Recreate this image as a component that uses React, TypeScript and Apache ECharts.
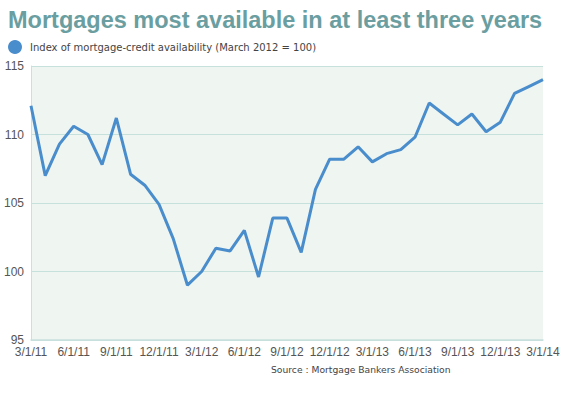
import React, { useEffect, useRef } from "react";
import * as echarts from "echarts";

const months: string[] = [
  "3/1/11", "4/1/11", "5/1/11", "6/1/11", "7/1/11", "8/1/11", "9/1/11", "10/1/11", "11/1/11", "12/1/11",
  "1/1/12", "2/1/12", "3/1/12", "4/1/12", "5/1/12", "6/1/12", "7/1/12", "8/1/12", "9/1/12", "10/1/12", "11/1/12", "12/1/12",
  "1/1/13", "2/1/13", "3/1/13", "4/1/13", "5/1/13", "6/1/13", "7/1/13", "8/1/13", "9/1/13", "10/1/13", "11/1/13", "12/1/13",
  "1/1/14", "2/1/14", "3/1/14",
];

const indexValues: number[] = [
  112.1, 107.0, 109.3, 110.6, 110.0, 107.8, 111.2, 107.1, 106.3, 104.9,
  102.4, 99.0, 100.0, 101.7, 101.5, 103.0, 99.6, 103.9, 103.9, 101.4, 106.0, 108.2,
  108.2, 109.1, 108.0, 108.6, 108.9, 109.8, 112.3, 111.5, 110.7, 111.5, 110.2, 110.9,
  113.0, 113.5, 114.0,
];

const titleText = "Mortgages most available in at least three years";
const legendText = "Index of mortgage-credit availability (March 2012 = 100)";
const sourceText = "Source : Mortgage Bankers Association";

export default function App() {
  const ref = useRef<HTMLDivElement>(null);
  useEffect(() => {
    if (!ref.current) return;
    const chart = echarts.init(ref.current, null, { renderer: "svg" });
    chart.setOption({
      animation: false,
      backgroundColor: "#ffffff",
      title: {
        text: titleText,
        left: 3,
        top: 3,
        textStyle: {
          fontFamily: "Liberation Sans, Arial, sans-serif",
          fontSize: 23.5,
          fontWeight: "bold",
          color: "#6a9ea0",
        },
      },
      legend: {
        show: true,
        left: 3,
        top: 35,
        icon: "circle",
        itemWidth: 14,
        itemHeight: 14,
        itemGap: 10,
        textStyle: {
          fontFamily: "DejaVu Sans, Verdana, sans-serif",
          fontSize: 10,
          color: "#444444",
          padding: [0, 0, 0, 3],
        },
        data: [legendText],
      },
      graphic: [
        {
          type: "text",
          left: 271,
          top: 365,
          style: {
            text: sourceText,
            fontFamily: "DejaVu Sans, Verdana, sans-serif",
            fontSize: 9.2,
            fill: "#444444",
          },
        },
      ],
      grid: {
        left: 31,
        right: 26,
        top: 66,
        bottom: 58,
        show: true,
        backgroundColor: "#eff5f1",
        borderWidth: 0,
      },
      xAxis: {
        type: "category",
        data: months,
        boundaryGap: false,
        axisLine: { show: true, lineStyle: { color: "#c9e0dd", width: 1.5 } },
        axisTick: { show: false },
        axisLabel: {
          interval: 2,
          color: "#555555",
          fontFamily: "Liberation Sans, Arial, sans-serif",
          fontSize: 12,
          margin: 6,
          lineHeight: 12,
        },
        splitLine: { show: false },
      },
      yAxis: {
        type: "value",
        min: 95,
        max: 115,
        interval: 5,
        axisLine: { show: true, lineStyle: { color: "#c9e0dd", width: 1 } },
        axisTick: { show: false },
        axisLabel: {
          color: "#555555",
          fontFamily: "Liberation Sans, Arial, sans-serif",
          fontSize: 12,
          margin: 7,
          lineHeight: 12,
        },
        splitLine: { show: true, lineStyle: { color: "#c6e0dc", width: 1 } },
      },
      series: [
        {
          name: legendText,
          type: "line",
          data: indexValues,
          symbol: "none",
          lineStyle: { color: "#4a8dcc", width: 3 },
          itemStyle: { color: "#4a8dcc" },
        },
      ],
    });
    return () => chart.dispose();
  }, []);
  return <div ref={ref} style={{ width: 569, height: 398, position: "absolute", left: 0, top: 0 }} />;
}
